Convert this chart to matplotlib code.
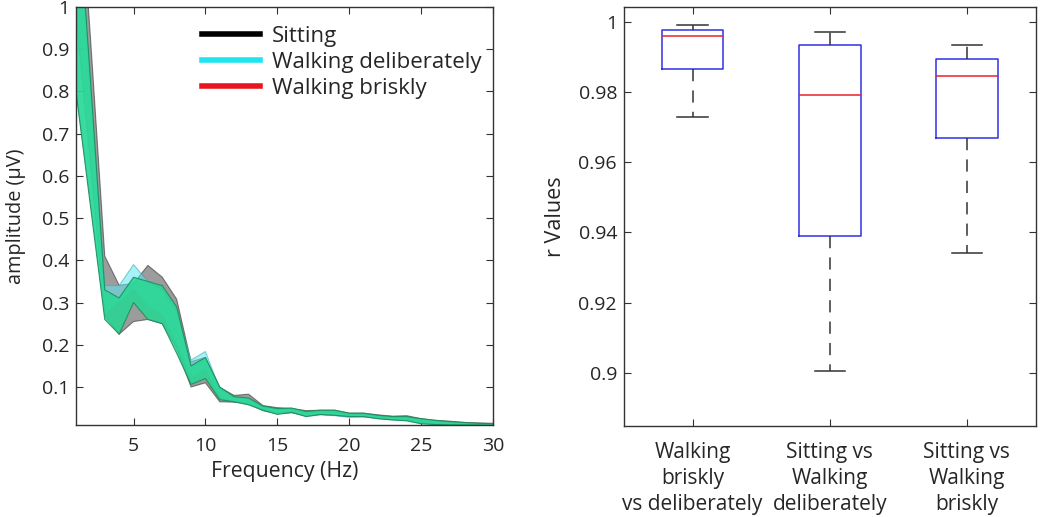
import numpy as np
import matplotlib
matplotlib.use("Agg")
import matplotlib.pyplot as plt
from matplotlib.lines import Line2D

plt.rcParams['font.family'] = ['Open Sans', 'DejaVu Sans']

# ---------------- data ----------------
freq = list(range(1, 31))

sit_mean = [1.20, 0.78, 0.34, 0.283, 0.30, 0.324, 0.305, 0.25, 0.13, 0.14, 0.082, 0.072,
            0.072, 0.05, 0.044, 0.044, 0.038, 0.04, 0.039, 0.034, 0.034, 0.030, 0.027,
            0.027, 0.020, 0.017, 0.015, 0.013, 0.012, 0.011]
sit_sem = [0.22, 0.15, 0.07, 0.058, 0.045, 0.064, 0.055, 0.058, 0.03, 0.03, 0.017, 0.008,
           0.011, 0.006, 0.007, 0.005, 0.006, 0.005, 0.006, 0.004, 0.004, 0.004, 0.004,
           0.005, 0.005, 0.004, 0.004, 0.003, 0.003, 0.003]

del_mean = [1.05, 0.68, 0.305, 0.32, 0.36, 0.32, 0.30, 0.24, 0.142, 0.162, 0.085, 0.070,
            0.065, 0.049, 0.042, 0.045, 0.035, 0.038, 0.036, 0.031, 0.032, 0.028, 0.025,
            0.024, 0.018, 0.015, 0.014, 0.012, 0.011, 0.010]
del_sem = [0.25, 0.14, 0.035, 0.02, 0.03, 0.03, 0.03, 0.04, 0.022, 0.022, 0.01, 0.005,
           0.007, 0.004, 0.005, 0.005, 0.005, 0.004, 0.004, 0.003, 0.003, 0.003, 0.003,
           0.004, 0.005, 0.004, 0.003, 0.002, 0.002, 0.002]

bri_mean = [1.06, 0.68, 0.295, 0.268, 0.33, 0.305, 0.295, 0.235, 0.128, 0.145, 0.085, 0.071,
            0.066, 0.050, 0.042, 0.045, 0.036, 0.040, 0.039, 0.034, 0.034, 0.029, 0.026,
            0.025, 0.019, 0.016, 0.014, 0.013, 0.012, 0.011]
bri_sem = [0.26, 0.15, 0.035, 0.043, 0.03, 0.045, 0.045, 0.055, 0.022, 0.025, 0.015, 0.006,
           0.008, 0.005, 0.007, 0.005, 0.006, 0.005, 0.006, 0.004, 0.004, 0.004, 0.004,
           0.005, 0.006, 0.005, 0.004, 0.003, 0.002, 0.002]

legend_labels = ['Sitting', 'Walking deliberately', 'Walking briskly']
legend_colors = ['black', '#1ee6f0', '#e8141e']

x_ticks_left = [5, 10, 15, 20, 25, 30]
y_ticks_left = [0.1, 0.2, 0.3, 0.4, 0.5, 0.6, 0.7, 0.8, 0.9, 1.0]
y_ticklabels_left = ['0.1', '0.2', '0.3', '0.4', '0.5', '0.6', '0.7', '0.8', '0.9', '1']

box_labels = ['Walking\nbriskly\nvs deliberately', 'Sitting vs\nWalking\ndeliberately',
              'Sitting vs\nWalking\nbriskly']
box_whislo = [0.973, 0.9005, 0.934]
box_q1 = [0.9865, 0.939, 0.967]
box_med = [0.996, 0.979, 0.9845]
box_q3 = [0.9975, 0.9935, 0.9895]
box_whishi = [0.999, 0.997, 0.9935]

y_ticks_right = [0.90, 0.92, 0.94, 0.96, 0.98, 1.00]
y_ticklabels_right = ['0.9', '0.92', '0.94', '0.96', '0.98', '1']

# ---------------- figure ----------------
W, H = 1050, 517
fig = plt.figure(figsize=(W / 100, H / 100), dpi=100)
txt = '#262626'

ax1 = fig.add_axes([76 / W, (H - 425) / H, 417 / W, 418 / H])
ax2 = fig.add_axes([624 / W, (H - 425.5) / H, 411.5 / W, 418.2 / H])

f = np.array(freq)
bands = [
    (sit_mean, sit_sem, '#5a5a5a', 0.6, '#333333'),
    (del_mean, del_sem, '#5ee8f0', 0.55, '#3aa8b0'),
    (bri_mean, bri_sem, '#26d892', 0.85, '#1a8a5e'),
]
for m, s, c, a, ec in bands:
    m = np.array(m); s = np.array(s)
    ax1.fill_between(f, m - s, m + s, color=c, alpha=a, linewidth=0.8,
                     edgecolor=ec, zorder=2)

ax1.set_xlim(1, 30)
ax1.set_ylim(0.01, 1.0)
ax1.set_xticks(x_ticks_left)
ax1.set_yticks(y_ticks_left)
ax1.set_yticklabels(y_ticklabels_left)

handles = [Line2D([0], [0], color=c, lw=4) for c in legend_colors]
ax1.legend(handles, legend_labels, loc='upper left', bbox_to_anchor=(0.302, 0.955),
           frameon=False, fontsize=16, handlelength=2.6, handletextpad=0.55,
           borderaxespad=0, borderpad=0, labelspacing=0.22, labelcolor=txt)

# boxplot
stats = []
for i in range(len(box_labels)):
    stats.append(dict(med=box_med[i], q1=box_q1[i], q3=box_q3[i],
                      whislo=box_whislo[i], whishi=box_whishi[i], fliers=[],
                      label=box_labels[i]))
ax2.bxp(stats, positions=[1, 2, 3], widths=0.45, showfliers=False,
        boxprops=dict(color='#3030e8', lw=1.1),
        medianprops=dict(color='#e8202a', lw=1.1),
        whiskerprops=dict(color='#333333', lw=1.1, linestyle=(0, (8, 6))),
        capprops=dict(color='#333333', lw=1.1), capwidths=0.22)
ax2.set_xlim(0.5, 3.5)
ax2.set_ylim(0.885, 1.0041)
ax2.set_yticks(y_ticks_right)
ax2.set_yticklabels(y_ticklabels_right)
ax2.set_xticks([1, 2, 3])

for ax in (ax1, ax2):
    for sp in ax.spines.values():
        sp.set_color('#333333')
        sp.set_linewidth(1.0)
    ax.tick_params(direction='in', top=True, right=True, length=5, width=0.8,
                   colors='#333333', labelcolor=txt, labelsize=14, pad=5)

ax1.tick_params(axis='x', pad=8.5)
ax1.set_xlabel('Frequency (Hz)', fontsize=15.3, color=txt, labelpad=4.5)
ax1.set_ylabel('amplitude (μV)', fontsize=14.3, color=txt, labelpad=11)
ax2.set_ylabel('r Values', fontsize=15.5, color=txt, labelpad=9)
ax2.set_xticklabels(box_labels, fontsize=15, color=txt, linespacing=1.3)
ax2.tick_params(axis='x', pad=12)

fig.savefig('out.png', dpi=100)
